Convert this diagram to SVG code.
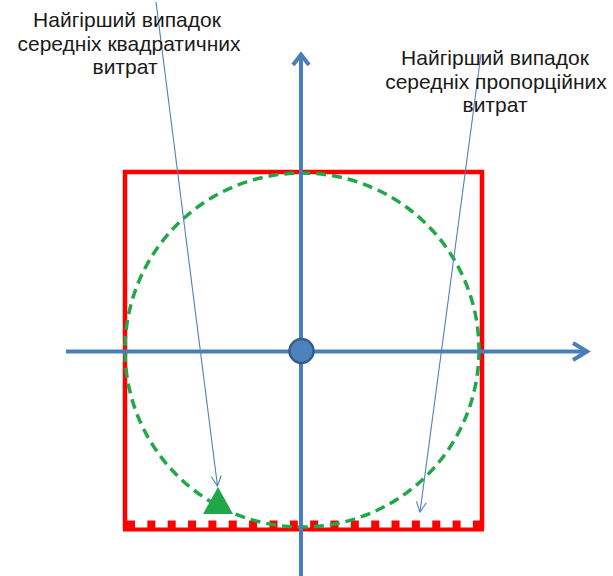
<svg xmlns="http://www.w3.org/2000/svg" width="613" height="576" viewBox="0 0 613 576">
<style>
.lbl{font-family:"Liberation Sans",Arial,sans-serif;font-size:21px;fill:#1a1a1a;text-anchor:middle}
.axis{stroke:#4a7ebb;stroke-width:4;fill:none}
.thin{stroke:#4f81bd;stroke-width:1.1;fill:none}
</style>
<defs>
<marker id="open" viewBox="0 0 12 12" refX="11" refY="6" markerWidth="12" markerHeight="12" markerUnits="userSpaceOnUse" orient="auto">
<path d="M1,1 L11,6 L1,11" fill="none" stroke="#4f81bd" stroke-width="1.1"/>
</marker>
</defs>
<rect width="613" height="576" fill="#fff"/>
<g id="square">
<path d="M125,529 V172 H482 V529" fill="none" stroke="#ff0000" stroke-width="4.5"/>
<line x1="123" y1="529.5" x2="484" y2="529.5" stroke="#ff0000" stroke-width="4"/>
<line x1="127" y1="525" x2="482" y2="525" stroke="#ff0000" stroke-width="9" stroke-dasharray="8 12.35"/>
</g>
<g id="circle">
<circle cx="302" cy="350" r="177" fill="none" stroke="#1fa748" stroke-width="3.5" stroke-dasharray="10 6"/>
</g>
<g id="axes">
<line class="axis" x1="66" y1="351.5" x2="586" y2="351.5"/>
<path class="axis" d="M573,343 L587,351.5 L573,360" stroke-linejoin="miter"/>
<line class="axis" x1="301" y1="576" x2="301" y2="56"/>
<path class="axis" d="M293,65 L301,54.5 L309,65"/>
</g>
<g id="origin">
<circle cx="301.5" cy="351" r="12" fill="#4f81bd" stroke="#385d8a" stroke-width="2.5"/>
</g>
<g id="triangle">
<polygon points="203,514 233,514 218,487" fill="#1fa748"/>
</g>
<g id="connectors">
<line class="thin" x1="156" y1="2" x2="217.5" y2="486" marker-end="url(#open)"/>
<line class="thin" x1="481" y1="54" x2="420" y2="512" marker-end="url(#open)"/>
</g>
<g id="label-left">
<text class="lbl" x="127" y="27">Найгірший випадок</text>
<text class="lbl" x="129" y="50.5">середніх квадратичних</text>
<text class="lbl" x="125" y="74">витрат</text>
</g>
<g id="label-right">
<text class="lbl" x="495" y="65">Найгірший випадок</text>
<text class="lbl" x="496" y="88.5">середніх пропорційних</text>
<text class="lbl" x="495" y="112">витрат</text>
</g>
</svg>
